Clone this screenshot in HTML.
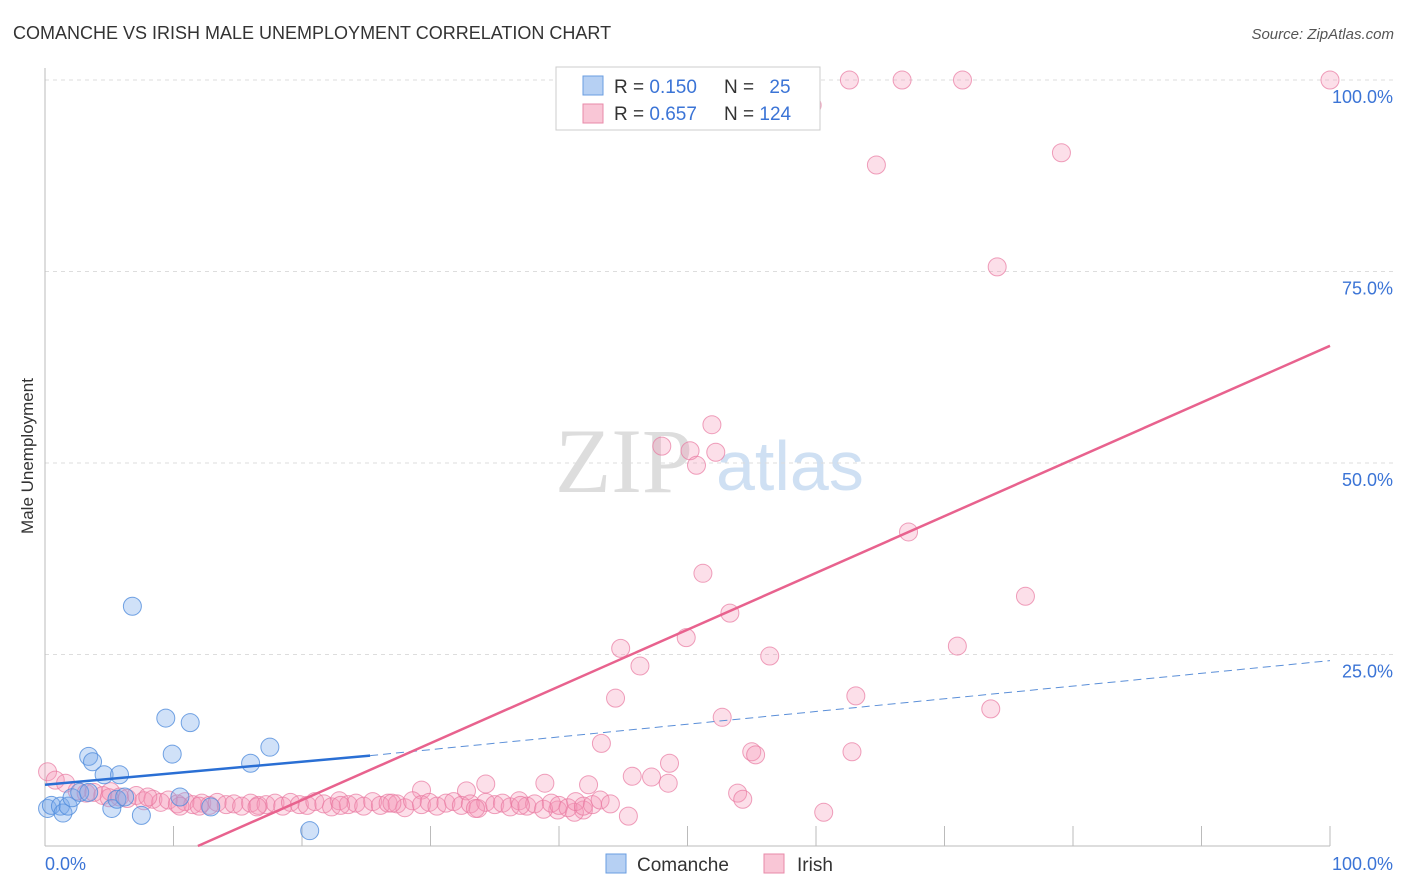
<!DOCTYPE html>
<html><head><meta charset="utf-8">
<style>
body{margin:0;background:#fff;font-family:"Liberation Sans",sans-serif;}
#wrap{position:relative;width:1406px;height:892px;overflow:hidden;}
</style></head>
<body>
<div id="wrap">
<svg id="svg" width="1406" height="892" xmlns="http://www.w3.org/2000/svg">
<text x="13" y="39" font-size="18" fill="#333">COMANCHE VS IRISH MALE UNEMPLOYMENT CORRELATION CHART</text>
<text x="1394" y="39" font-size="15" fill="#555" font-style="italic" text-anchor="end">Source: ZipAtlas.com</text>
<text transform="translate(33,456) rotate(-90)" font-size="17" fill="#333" text-anchor="middle">Male Unemployment</text>
<text x="555" y="492" font-size="92" fill="#ddd" font-family="Liberation Serif,serif">ZIP</text>
<text x="716" y="490" font-size="70" fill="#cfe0f3">atlas</text>
<g id="grid"></g>
<g id="ticks"></g>
<g id="marks"></g>
<g id="trends"></g>
<g>
<rect x="556" y="67" width="264" height="63" fill="#fff" stroke="#ccc"/>
<rect x="583" y="76" width="20" height="19" fill="#b6d0f3" stroke="#6a9ee0"/>
<rect x="583" y="104" width="20" height="19" fill="#f9c6d6" stroke="#e88aa8"/>
<text x="614" y="93" font-size="19" fill="#333">R = <tspan fill="#3b74d6">0.150</tspan></text>
<text x="724" y="93" font-size="19" fill="#333">N = <tspan dx="10" fill="#3b74d6">25</tspan></text>
<text x="614" y="120" font-size="19" fill="#333">R = <tspan fill="#3b74d6">0.657</tspan></text>
<text x="724" y="120" font-size="19" fill="#333">N = <tspan fill="#3b74d6">124</tspan></text>
</g>
<g>
<rect x="606" y="854" width="20" height="19" fill="#b6d0f3" stroke="#6a9ee0"/>
<text x="637" y="871" font-size="19" fill="#333">Comanche</text>
<rect x="764" y="854" width="20" height="19" fill="#f9c6d6" stroke="#e88aa8"/>
<text x="797" y="871" font-size="19" fill="#333">Irish</text>
</g>
</svg>
</div>
<script>
const yTicks=[25,50,75,100];
const yTickLabels=["25.0%","50.0%","75.0%","100.0%"];
const xTicks=[0,10,20,30,40,50,60,70,80,90,100];
const comancheX=[0.2,0.5,1.2,1.4,1.8,2.1,2.7,3.4,3.4,3.7,4.6,5.2,5.6,5.8,6.2,6.8,7.5,9.4,9.9,10.5,11.3,12.9,16.0,17.5,20.6];
const comancheY=[4.9,5.3,5.2,4.3,5.2,6.3,7.0,7.0,11.7,11.0,9.3,4.9,6.1,9.3,6.4,31.3,4.0,16.7,12.0,6.4,16.1,5.1,10.8,12.9,2.0];
const irishX=[0.2,0.8,1.6,62.6,66.7,71.4,100,59.7,64.7,79.1,74.1,51.9,48.0,50.2,52.2,50.7,67.2,51.2,76.3,53.3,49.9,44.8,71.0,56.4,46.3,44.4,63.1,52.7,73.6,43.3,55.0,55.3,62.8,48.6,45.7,47.2,48.5,42.3,38.9,34.3,29.3,32.8,53.9,54.3,45.4,60.6,39.9,41.9,41.2,
2.5,3.2,3.8,4.5,5.1,5.8,6.4,7.1,7.7,8.4,9.0,9.6,10.3,10.9,11.5,12.2,12.8,13.4,14.1,14.7,15.3,16.0,16.6,17.2,17.9,18.5,19.1,19.8,20.4,21.0,21.7,22.3,22.9,23.6,24.2,24.8,25.5,26.1,26.7,27.4,28.0,28.6,29.3,29.9,30.5,31.2,31.8,32.4,33.1,33.7,34.3,35.0,35.6,36.2,36.9,37.5,38.1,38.8,39.4,40.0,40.7,41.3,41.9,42.6,43.2,44.0,8.0,12.0,16.5,23.0,27.0,33.5,37.0,5.0,10.5];
const irishY=[9.7,8.6,8.2,100,100,100,100,96.7,88.9,90.5,75.6,55.0,52.2,51.6,51.4,49.7,41.0,35.6,32.6,30.4,27.2,25.8,26.1,24.8,23.5,19.3,19.6,16.8,17.9,13.4,12.3,11.9,12.3,10.8,9.1,9.0,8.2,8.0,8.2,8.1,7.3,7.2,6.9,6.1,3.9,4.4,4.7,4.7,4.4,
7.2,6.9,7.0,6.6,7.1,6.4,6.2,6.6,5.9,6.1,5.7,6.0,5.5,5.8,5.4,5.6,5.3,5.7,5.4,5.5,5.2,5.6,5.3,5.4,5.6,5.2,5.7,5.4,5.3,5.8,5.5,5.1,5.9,5.4,5.6,5.2,5.8,5.3,5.6,5.5,5.0,5.9,5.4,5.7,5.2,5.6,5.8,5.3,5.5,4.9,5.7,5.4,5.6,5.1,5.9,5.2,5.5,4.8,5.6,5.3,5.0,5.8,5.2,5.4,6.0,5.5,6.4,5.2,5.1,5.3,5.6,4.9,5.3,6.3,5.2];
const comancheTrend=[[0,8.0],[25.3,11.8],[100,24.2]];
const irishTrend=[[11.9,0],[100,65.3]];
const NS="http://www.w3.org/2000/svg";
const X0=45,X1=1330,Y0=846,Y1=80;
const sx=v=>X0+(X1-X0)*v/100;
const sy=v=>Y0-(Y0-Y1)*v/100;
function mk(tag,attrs,parent){const e=document.createElementNS(NS,tag);for(const k in attrs)e.setAttribute(k,attrs[k]);document.getElementById(parent).appendChild(e);return e;}
yTicks.forEach((t,i)=>{
  const l=mk('line',{x1:X0,x2:1394,y1:sy(t),y2:sy(t),stroke:'#ddd','stroke-dasharray':'4,4'},'grid');
  
  
  const tx=mk('text',{x:1393,y:sy(t)+23,'font-size':18,fill:'#3b74d6','text-anchor':'end'},'grid');
  tx.textContent=yTickLabels[i];
  
  
});
const ax=mk('line',{x1:X0,x2:X0,y1:68,y2:Y0,stroke:'#bbb'},'ticks');


const bx=mk('line',{x1:X0,x2:X1,y1:Y0,y2:Y0,stroke:'#bbb'},'ticks');


xTicks.forEach(t=>{
  const l=mk('line',{x1:sx(t),x2:sx(t),y1:Y0-20,y2:Y0,stroke:'#bbb'},'ticks');
  
  
});
const xl0=mk('text',{x:45,y:870,'font-size':18,fill:'#3b74d6'},'ticks');xl0.textContent='0.0%';


const xl1=mk('text',{x:1393,y:870,'font-size':18,fill:'#3b74d6','text-anchor':'end'},'ticks');xl1.textContent='100.0%';


irishX.forEach((x,i)=>{
  const c=mk('circle',{cx:sx(x),cy:sy(irishY[i]),r:9,fill:'rgba(244,150,182,0.3)',stroke:'rgba(232,120,160,0.7)'},'marks');
  
  
});
comancheX.forEach((x,i)=>{
  const c=mk('circle',{cx:sx(x),cy:sy(comancheY[i]),r:9,fill:'rgba(120,170,235,0.35)',stroke:'rgba(80,140,220,0.8)'},'marks');
  
  
});
const cs=mk('line',{x1:sx(comancheTrend[0][0]),y1:sy(comancheTrend[0][1]),x2:sx(comancheTrend[1][0]),y2:sy(comancheTrend[1][1]),stroke:'#2a6fd4','stroke-width':2.5},'trends');


const cd=mk('line',{x1:sx(comancheTrend[1][0]),y1:sy(comancheTrend[1][1]),x2:sx(comancheTrend[2][0]),y2:sy(comancheTrend[2][1]),stroke:'#5b8fd8','stroke-width':1,'stroke-dasharray':'8,5'},'trends');


const it=mk('line',{x1:sx(irishTrend[0][0]),y1:sy(irishTrend[0][1]),x2:sx(irishTrend[1][0]),y2:sy(irishTrend[1][1]),stroke:'#e8628e','stroke-width':2.5},'trends');


</script>
</body></html>
